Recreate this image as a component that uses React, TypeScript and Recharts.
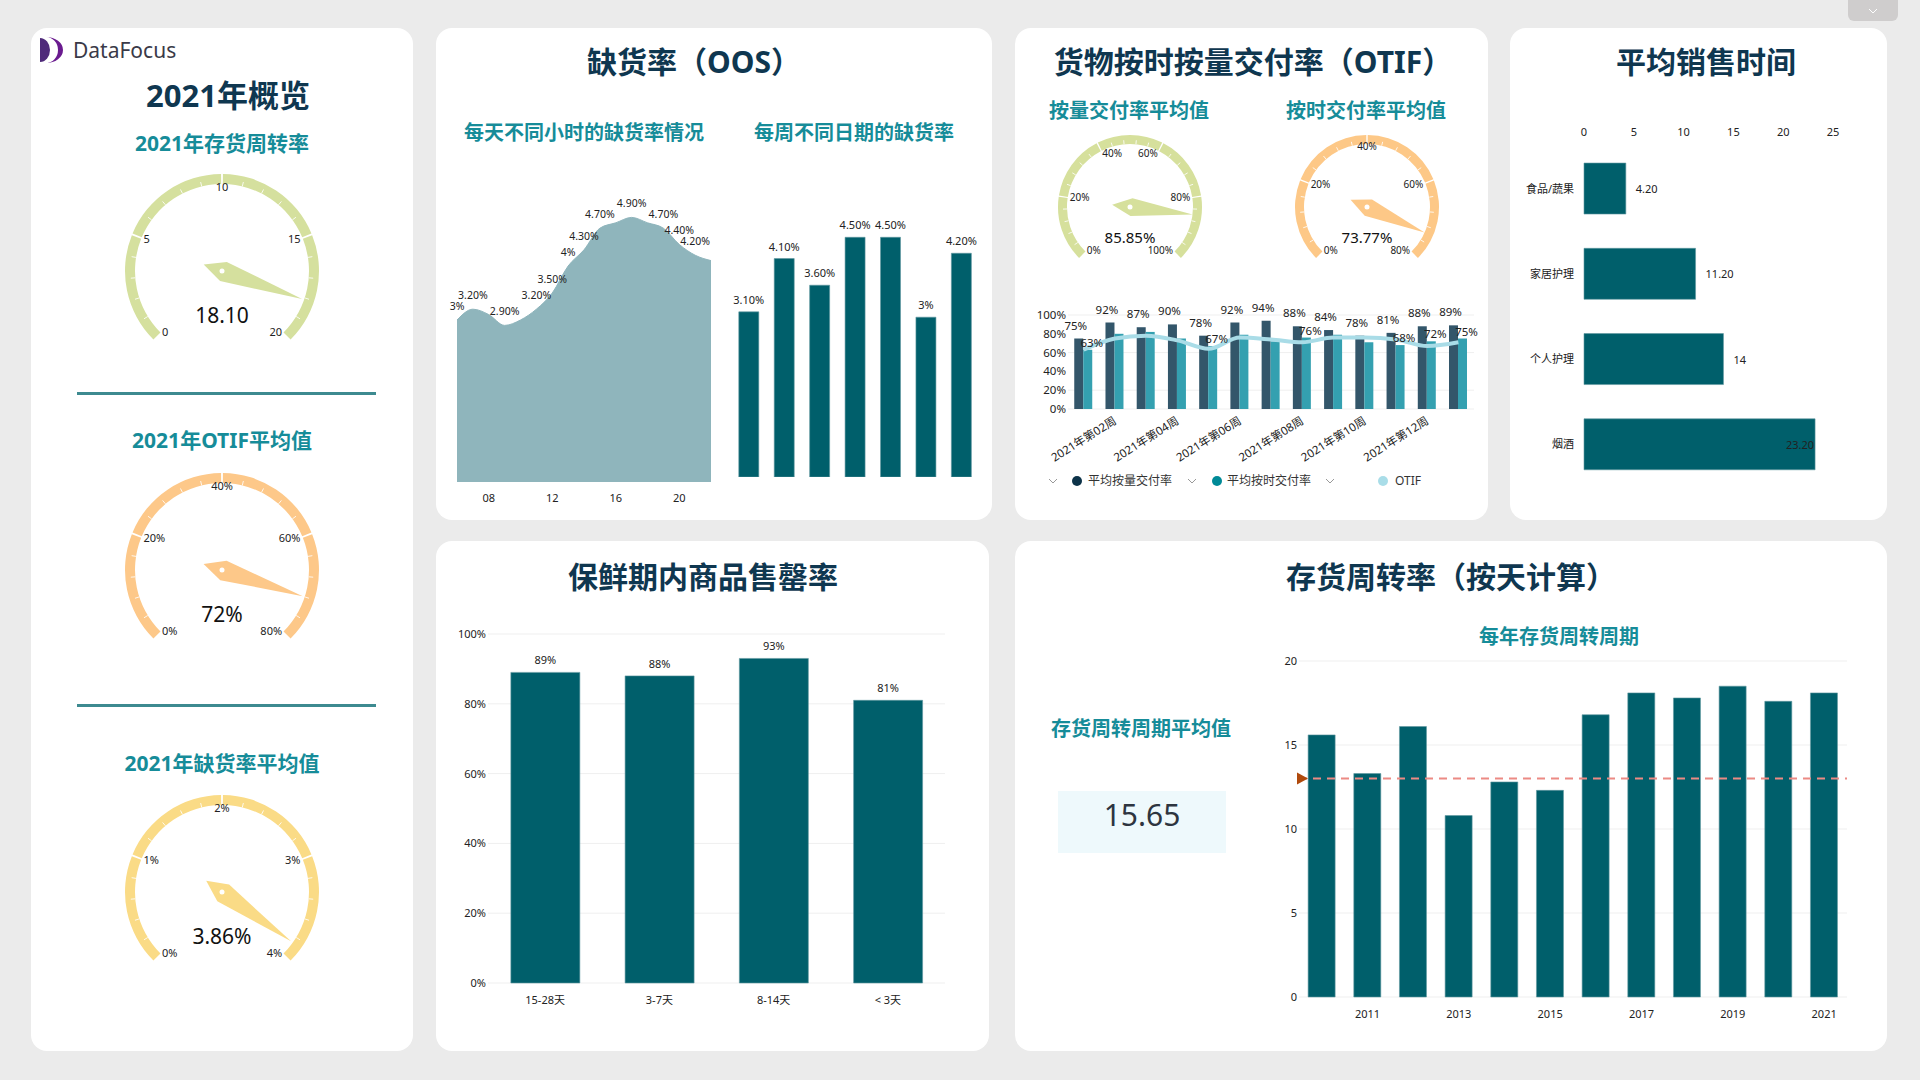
import React from "react";
import {
  Area,
  AreaChart,
  Bar,
  BarChart,
  CartesianGrid,
  ComposedChart,
  LabelList,
  Line,
  Pie,
  PieChart,
  ReferenceLine,
  XAxis,
  YAxis,
} from "recharts";

const FONT = '"Noto Sans", "Noto Sans CJK SC", sans-serif';
const NAVY = "#0f3750";
const TEAL = "#168c99";
const BAR = "#005f6b";
const BAR_EDGE = "#5f979f";
const INK = "#222";
const GRID = "#efefef";

// 2021年概览 gauges
const turnoverGaugeTicks = [0, 5, 10, 15, 20];
const turnover2021 = 18.1;
const otifGaugeTicks = [0, 20, 40, 60, 80];
const otif2021 = 72;
const oosGaugeTicks = [0, 1, 2, 3, 4];
const oos2021 = 3.86;

// 缺货率 by hour / weekday (%)
const hours = [6, 7, 8, 9, 10, 11, 12, 13, 14, 15, 16, 17, 18, 19, 20, 21, 22];
const hourlyOos = [3, 3.2, 3.1, 2.9, 3, 3.2, 3.5, 4, 4.3, 4.7, 4.8, 4.9, 4.8, 4.7, 4.4, 4.2, 4.1];
const hourlyLabelled = [6, 7, 9, 11, 12, 13, 14, 15, 17, 19, 20, 21];
const hourTicks = [8, 12, 16, 20];
const weekdays = ["周一", "周二", "周三", "周四", "周五", "周六", "周日"];
const weekdayOos = [3.1, 4.1, 3.6, 4.5, 4.5, 3, 4.2];

// OTIF
const qtyGaugeTicks = [0, 20, 40, 60, 80, 100];
const timeGaugeTicks = [0, 20, 40, 60, 80];
const weeks = [
  "2021年第01周", "2021年第02周", "2021年第03周", "2021年第04周", "2021年第05周",
  "2021年第06周", "2021年第07周", "2021年第08周", "2021年第09周", "2021年第10周",
  "2021年第11周", "2021年第12周", "2021年第13周",
];
const byQtyRate = [75, 92, 87, 90, 78, 92, 94, 88, 84, 78, 81, 88, 89];
const onTimeRate = [63, 80, 82, 75, 67, 79, 72, 76, 79, 71, 68, 72, 75];
const otifRate = [63, 75, 78, 73, 64, 76, 74, 71, 76, 76, 74, 67, 71];
const onTimeLabelled = [0, 4, 7, 10, 11, 12];
const pctTicks = [0, 20, 40, 60, 80, 100];

// 平均销售时间
const salesCats = ["食品/蔬果", "家居护理", "个人护理", "烟酒"];
const salesDays = [4.2, 11.2, 14, 23.2];
const salesTicks = [0, 5, 10, 15, 20, 25];

// 保鲜期内商品售罄率
const shelfCats = ["15-28天", "3-7天", "8-14天", "< 3天"];
const shelfRate = [89, 88, 93, 81];

// 存货周转率
const years = [2010, 2011, 2012, 2013, 2014, 2015, 2016, 2017, 2018, 2019, 2020, 2021];
const turnoverDays = [15.6, 13.3, 16.1, 10.8, 12.8, 12.3, 16.8, 18.1, 17.8, 18.5, 17.6, 18.1];
const turnoverTarget = 13;
const turnoverTicks = [0, 5, 10, 15, 20];

const avg = (a: number[]) => a.reduce((s, v) => s + v, 0) / a.length;
const pct2 = (v: number) => (Number.isInteger(v) ? `${v}%` : `${v.toFixed(2)}%`);
const num2 = (v: number) => (Number.isInteger(v) ? `${v}` : v.toFixed(2));

const RAD = Math.PI / 180;
const polar = (cx: number, cy: number, r: number, a: number) => [cx + r * Math.cos(a * RAD), cy - r * Math.sin(a * RAD)];

function Gauge({
  left, top, size, outer, thick, ticks, value, color, unit, valueText, tickFont, valueFont, valueDy,
}: {
  left: number; top: number; size: number; outer: number; thick: number; ticks: number[]; value: number;
  color: string; unit: string; valueText: string; tickFont: number; valueFont: number; valueDy: number;
}) {
  const inner = outer - thick;
  const max = ticks[ticks.length - 1];
  const minorN = 5;
  const majors = ticks.slice(1).map((t, i) => ({ seg: t - ticks[i] }));
  const minors = ticks.slice(1).flatMap((t, i) =>
    [0, 1, 2, 3, 4].map(() => ({ seg: (t - ticks[i]) / minorN })),
  );
  const needle = [{ seg: value }, { seg: max - value }];
  const c = size / 2;

  const tickLabel = (cx: number, cy: number, a: number, txt: string) => {
    const [x, y] = polar(cx, cy, inner - 2, a);
    const cos = Math.cos(a * RAD);
    const anchor = cos < -0.4 ? "start" : cos > 0.4 ? "end" : "middle";
    return (
      <text x={x} y={y} textAnchor={anchor} dominantBaseline="central" fontSize={tickFont} fill={INK}>
        {txt}
      </text>
    );
  };

  const renderTick = (p: any) => {
    const { cx, cy, startAngle, endAngle, index } = p;
    const [x1, y1] = polar(cx, cy, inner, startAngle);
    const [x2, y2] = polar(cx, cy, inner + thick * 0.45, startAngle);
    return (
      <g>
        {index % minorN === 0
          ? tickLabel(cx, cy, startAngle, `${ticks[index / minorN]}${unit}`)
          : <line x1={x1} y1={y1} x2={x2} y2={y2} stroke="#fff" strokeWidth={1} opacity={0.85} />}
        {index === minors.length - 1 ? tickLabel(cx, cy, endAngle, `${max}${unit}`) : null}
      </g>
    );
  };

  const renderNeedle = (p: any) => {
    if (p.index !== 0) return <g />;
    const { cx, cy, endAngle: a } = p;
    const ux = Math.cos(a * RAD);
    const uy = -Math.sin(a * RAD);
    const tail = Math.max(18, outer * 0.2);
    const hw = Math.max(9, outer * 0.105);
    const tip = [cx + ux * outer * 0.875, cy + uy * outer * 0.875];
    const back = [cx - ux * tail, cy - uy * tail];
    const s1 = [cx + ux * 1.5 - uy * hw, cy + uy * 1.5 + ux * hw];
    const s2 = [cx + ux * 1.5 + uy * hw, cy + uy * 1.5 - ux * hw];
    const pts = [tip, s1, back, s2].map((q) => q.join(",")).join(" ");
    return (
      <g>
        <polygon points={pts} fill={color} />
        <circle cx={cx} cy={cy} r={2.5} fill="#fff" />
        <text x={cx} y={cy + valueDy} textAnchor="middle" dominantBaseline="central" fontSize={valueFont} fill="#111">
          {valueText}
        </text>
      </g>
    );
  };

  const common = {
    cx: c, cy: c, startAngle: 225, endAngle: -45, innerRadius: inner, outerRadius: outer,
    dataKey: "seg", isAnimationActive: false, stroke: "none",
  };

  return (
    <div style={{ position: "absolute", left, top }}>
      <PieChart width={size} height={size} margin={{ top: 0, right: 0, bottom: 0, left: 0 }}>
        <Pie {...common} data={majors} fill={color} paddingAngle={1.1} />
        <Pie {...common} data={minors} fill="transparent" label={renderTick} labelLine={false} />
        <Pie {...common} data={needle} fill="transparent" label={renderNeedle} labelLine={false} />
      </PieChart>
    </div>
  );
}

function T({ x, y, size, color, bold = true, anchor = "middle", children }: {
  x: number; y: number; size: number; color: string; bold?: boolean; anchor?: "middle" | "start"; children: React.ReactNode;
}) {
  return (
    <div
      style={{
        position: "absolute", left: x, top: y, whiteSpace: "nowrap", lineHeight: 1.2,
        transform: `translate(${anchor === "middle" ? "-50%" : "0"}, -50%)`,
        fontSize: size, color, fontWeight: bold ? 700 : 400,
      }}
    >
      {children}
    </div>
  );
}

function Card({ x, y, w, h }: { x: number; y: number; w: number; h: number }) {
  return <div style={{ position: "absolute", left: x, top: y, width: w, height: h, background: "#fff", borderRadius: 16 }} />;
}

const topLabel = (fmt: (v: number) => string, offset: number, size: number, shown?: (i: number) => boolean, dx = 0) =>
  (p: any) => {
    if (shown && !shown(p.index)) return <g />;
    const vb = p.viewBox || p;
    const x = (vb.x ?? p.x) + (vb.width ?? 0) / 2 + dx;
    const y = vb.y ?? p.y;
    return (
      <text x={x} y={y - offset} textAnchor="middle" fontSize={size} fill={INK}>
        {fmt(Number(p.value))}
      </text>
    );
  };

const salesLabel = (p: any) => {
  const vb = p.viewBox || p;
  const v = Number(p.value);
  const inside = v > 20;
  return (
    <text
      x={inside ? vb.x + vb.width - 1 : vb.x + vb.width + 10}
      y={vb.y + vb.height / 2}
      textAnchor={inside ? "end" : "start"}
      dominantBaseline="central"
      fontSize={11}
      fill={INK}
    >
      {num2(v)}
    </text>
  );
};

const weekTick = (p: any) => {
  const { x, y, payload, index } = p;
  if (index % 2 === 0) return <g />;
  return (
    <text x={x} y={y} transform={`rotate(-32 ${x} ${y})`} textAnchor="end" dominantBaseline="central" fontSize={11.5} fill={INK}>
      {payload.value}
    </text>
  );
};

const yearTick = (p: any) => {
  const { x, y, payload, index } = p;
  if (index % 2 === 0) return <g />;
  return (
    <text x={x} y={y} dy="0.71em" textAnchor="middle" fontSize={11} fill={INK}>
      {payload.value}
    </text>
  );
};

function Chevron({ x, y, color }: { x: number; y: number; color: string }) {
  return (
    <svg style={{ position: "absolute", left: x - 5, top: y - 3 }} width={10} height={6}>
      <polyline points="1,1 5,5 9,1" fill="none" stroke={color} strokeWidth={1} />
    </svg>
  );
}

function LegendItem({ cx, dotX, textX, color, label }: { cx: number; dotX: number; textX: number; color: string; label: string }) {
  return (
    <>
      <Chevron x={cx} y={481} color="#999" />
      <div style={{ position: "absolute", left: dotX - 5, top: 476, width: 10, height: 10, borderRadius: 5, background: color }} />
      <T x={textX} y={481} size={12} color="#333" bold={false} anchor="start">{label}</T>
    </>
  );
}

function Logo() {
  return (
    <svg style={{ position: "absolute", left: 38, top: 36 }} width={28} height={28}>
      <path d="M2,2 A10,12 0 0 1 2,26 Z" fill="#4f2a7a" />
      <path d="M8,1 A17,13 0 0 1 8,27 A12,13 0 0 0 8,1 Z" fill="#6a1b8f" />
    </svg>
  );
}

export default function App() {
  const hourly = hours.map((h, i) => ({ hour: h, rate: hourlyOos[i] }));
  const weekday = weekdays.map((d, i) => ({ day: d, rate: weekdayOos[i] }));
  const otifRows = weeks.map((w, i) => ({ week: w, qty: byQtyRate[i], time: onTimeRate[i], otif: otifRate[i] }));
  const sales = salesCats.map((c, i) => ({ cat: c, days: salesDays[i] }));
  const shelf = shelfCats.map((c, i) => ({ cat: c, rate: shelfRate[i] }));
  const turnover = years.map((y, i) => ({ year: String(y), days: turnoverDays[i] }));

  return (
    <div
      style={{
        position: "absolute", left: 0, top: 0, width: 1920, height: 1080, overflow: "hidden",
        background: "#ebebeb", fontFamily: FONT,
      }}
    >
      <div style={{ position: "absolute", left: 1848, top: 0, width: 50, height: 21, background: "#cfcdcd", borderRadius: "0 0 6px 6px" }} />
      <Chevron x={1873} y={11} color="#fff" />

      <Card x={31} y={28} w={382} h={1023} />
      <Card x={436} y={28} w={556} h={492} />
      <Card x={1015} y={28} w={473} h={492} />
      <Card x={1510} y={28} w={377} h={492} />
      <Card x={436} y={541} w={553} h={510} />
      <Card x={1015} y={541} w={872} h={510} />

      {/* 2021年概览 */}
      <Logo />
      <T x={73} y={51} size={21} color="#3a3a48" bold={false} anchor="start">DataFocus</T>
      <T x={228} y={96} size={31} color={NAVY}>2021年概览</T>
      <T x={222} y={144} size={21} color={TEAL}>2021年存货周转率</T>
      <Gauge left={112} top={161} size={220} outer={97} thick={10} ticks={turnoverGaugeTicks} value={turnover2021}
        color="#d5e09e" unit="" valueText={turnover2021.toFixed(2)} tickFont={11} valueFont={21} valueDy={44} />
      <div style={{ position: "absolute", left: 77, top: 392, width: 299, height: 3, background: "#3d8a90" }} />
      <T x={222} y={441} size={21} color={TEAL}>2021年OTIF平均值</T>
      <Gauge left={112} top={460} size={220} outer={97} thick={10} ticks={otifGaugeTicks} value={otif2021}
        color="#fdc889" unit="%" valueText={`${otif2021}%`} tickFont={11} valueFont={21} valueDy={44} />
      <div style={{ position: "absolute", left: 77, top: 704, width: 299, height: 3, background: "#3d8a90" }} />
      <T x={222} y={764} size={21} color={TEAL}>2021年缺货率平均值</T>
      <Gauge left={112} top={782} size={220} outer={97} thick={10} ticks={oosGaugeTicks} value={oos2021}
        color="#fadb86" unit="%" valueText={`${oos2021}%`} tickFont={11} valueFont={21} valueDy={44} />

      {/* 缺货率（OOS） */}
      <T x={694} y={62} size={30} color={NAVY}>缺货率（OOS）</T>
      <T x={584} y={133} size={20} color={TEAL}>每天不同小时的缺货率情况</T>
      <T x={854} y={133} size={20} color={TEAL}>每周不同日期的缺货率</T>
      <div style={{ position: "absolute", left: 445, top: 170 }}>
        <AreaChart width={280} height={342} data={hourly} margin={{ top: 15, right: 14, left: 12, bottom: 0 }}>
          <XAxis dataKey="hour" type="number" domain={[6, 22]} ticks={hourTicks} height={30}
            tickFormatter={(h) => String(h).padStart(2, "0")} axisLine={false} tickLine={false} tickSize={0} tickMargin={12}
            tick={{ fontSize: 11, fill: INK }} />
          <YAxis hide domain={[0, 5.5]} />
          <Area dataKey="rate" type="monotone" stroke="#8fb5bc" fill="#8fb5bc" fillOpacity={1} isAnimationActive={false}>
            <LabelList dataKey="rate" content={topLabel(pct2, 10, 10.5, (i) => hourlyLabelled.includes(hours[i]))} />
          </Area>
        </AreaChart>
      </div>
      <div style={{ position: "absolute", left: 726, top: 170 }}>
        <BarChart width={258} height={307} data={weekday} margin={{ top: 14, right: 5, left: 5, bottom: 0 }} barCategoryGap="22%">
          <XAxis dataKey="day" hide />
          <YAxis hide domain={[0, 5.5]} />
          <Bar dataKey="rate" fill={BAR} stroke={BAR_EDGE} strokeWidth={0.6} isAnimationActive={false}>
            <LabelList dataKey="rate" content={topLabel(pct2, 8, 11)} />
          </Bar>
        </BarChart>
      </div>

      {/* OTIF */}
      <T x={1253} y={62} size={30} color={NAVY}>货物按时按量交付率（OTIF）</T>
      <T x={1129} y={111} size={20} color={TEAL}>按量交付率平均值</T>
      <T x={1366} y={111} size={20} color={TEAL}>按时交付率平均值</T>
      <Gauge left={1045} top={122} size={170} outer={72} thick={9} ticks={qtyGaugeTicks} value={avg(byQtyRate)}
        color="#d6e09c" unit="%" valueText={`${avg(byQtyRate).toFixed(2)}%`} tickFont={10} valueFont={15} valueDy={30} />
      <Gauge left={1282} top={122} size={170} outer={72} thick={9} ticks={timeGaugeTicks} value={avg(onTimeRate)}
        color="#fdc887" unit="%" valueText={`${avg(onTimeRate).toFixed(2)}%`} tickFont={10} valueFont={15} valueDy={30} />
      <div style={{ position: "absolute", left: 1020, top: 290 }}>
        <ComposedChart width={460} height={179} data={otifRows} margin={{ top: 25, right: 6, left: 0, bottom: 0 }}
          barCategoryGap="20%" barGap={0}>
          <CartesianGrid vertical={false} stroke={GRID} />
          <XAxis dataKey="week" interval={0} height={60} axisLine={false} tickLine={false} tickSize={0} tickMargin={10} tick={weekTick} />
          <YAxis domain={[0, 100]} ticks={pctTicks} width={48} axisLine={false} tickLine={false} tickSize={0} tickMargin={2}
            tickFormatter={(v) => `${v}%`} tick={{ fontSize: 11.5, fill: INK }} />
          <Bar dataKey="qty" fill="#33566a" isAnimationActive={false}>
            <LabelList dataKey="qty" content={topLabel((v) => `${v}%`, 9, 11.5, undefined, -3)} />
          </Bar>
          <Bar dataKey="time" fill="#34a0b0" isAnimationActive={false}>
            <LabelList dataKey="time" content={topLabel((v) => `${v}%`, 3, 11.5, (i) => onTimeLabelled.includes(i), 4)} />
          </Bar>
          <Line dataKey="otif" type="monotone" stroke="#a9dce7" strokeWidth={4} dot={false} isAnimationActive={false} />
        </ComposedChart>
      </div>
      <LegendItem cx={1053} dotX={1077} textX={1088} color="#0d3349" label="平均按量交付率" />
      <LegendItem cx={1192} dotX={1217} textX={1227} color="#008a97" label="平均按时交付率" />
      <LegendItem cx={1330} dotX={1383} textX={1395} color="#a9dde8" label="OTIF" />

      {/* 平均销售时间 */}
      <T x={1706} y={62} size={30} color={NAVY}>平均销售时间</T>
      <div style={{ position: "absolute", left: 1510, top: 115 }}>
        <BarChart width={363} height={377} data={sales} layout="vertical" margin={{ top: 1, right: 40, left: 0, bottom: 5 }}
          barCategoryGap="20%">
          <XAxis type="number" orientation="top" domain={[0, 25]} ticks={salesTicks} height={30} axisLine={false}
            tickLine={false} tickSize={0} tickMargin={10} tick={{ fontSize: 11, fill: INK }} />
          <YAxis type="category" dataKey="cat" width={74} axisLine={false} tickLine={false} tickSize={0} tickMargin={10}
            tick={{ fontSize: 11, fill: INK }} />
          <Bar dataKey="days" fill={BAR} stroke={BAR_EDGE} strokeWidth={0.6} isAnimationActive={false}>
            <LabelList dataKey="days" content={salesLabel} />
          </Bar>
        </BarChart>
      </div>

      {/* 保鲜期内商品售罄率 */}
      <T x={703} y={577} size={30} color={NAVY}>保鲜期内商品售罄率</T>
      <div style={{ position: "absolute", left: 444, top: 620 }}>
        <BarChart width={511} height={393} data={shelf} margin={{ top: 14, right: 10, left: 0, bottom: 0 }} barCategoryGap="20%">
          <CartesianGrid vertical={false} stroke={GRID} />
          <XAxis dataKey="cat" height={30} axisLine={false} tickLine={false} tickSize={0} tickMargin={13}
            tick={{ fontSize: 11, fill: INK }} />
          <YAxis domain={[0, 100]} ticks={pctTicks} width={44} axisLine={false} tickLine={false} tickSize={0} tickMargin={2}
            tickFormatter={(v) => `${v}%`} tick={{ fontSize: 11, fill: INK }} />
          <Bar dataKey="rate" fill={BAR} stroke={BAR_EDGE} strokeWidth={0.6} isAnimationActive={false}>
            <LabelList dataKey="rate" content={topLabel((v) => `${v}%`, 8, 11)} />
          </Bar>
        </BarChart>
      </div>

      {/* 存货周转率（按天计算） */}
      <T x={1451} y={577} size={30} color={NAVY}>存货周转率（按天计算）</T>
      <T x={1141} y={729} size={20} color={TEAL}>存货周转周期平均值</T>
      <div style={{ position: "absolute", left: 1058, top: 791, width: 168, height: 62, background: "#eef9fc" }} />
      <T x={1142} y={815} size={30} color="#2d3540" bold={false}>{avg(turnoverDays).toFixed(2)}</T>
      <T x={1559} y={637} size={20} color={TEAL}>每年存货周转周期</T>
      <div style={{ position: "absolute", left: 1269, top: 645 }}>
        <BarChart width={588} height={382} data={turnover} margin={{ top: 16, right: 10, left: 0, bottom: 0 }} barCategoryGap="20%">
          <CartesianGrid vertical={false} stroke={GRID} />
          <XAxis dataKey="year" interval={0} height={30} axisLine={false} tickLine={false} tickSize={0} tickMargin={13} tick={yearTick} />
          <YAxis domain={[0, 20]} ticks={turnoverTicks} width={30} axisLine={false} tickLine={false} tickSize={0} tickMargin={2}
            tick={{ fontSize: 11, fill: INK }} />
          <ReferenceLine y={turnoverTarget} stroke="#ec8a84" strokeWidth={2} strokeDasharray="8 6"
            label={(p: any) => {
              const vb = p.viewBox || p;
              const x = vb.x;
              const y = vb.y;
              return <polygon points={`${x - 2},${y - 6} ${x - 2},${y + 6} ${x + 9},${y}`} fill="#b04a0c" />;
            }} />
          <Bar dataKey="days" fill={BAR} stroke={BAR_EDGE} strokeWidth={0.6} isAnimationActive={false} />
        </BarChart>
      </div>
    </div>
  );
}
